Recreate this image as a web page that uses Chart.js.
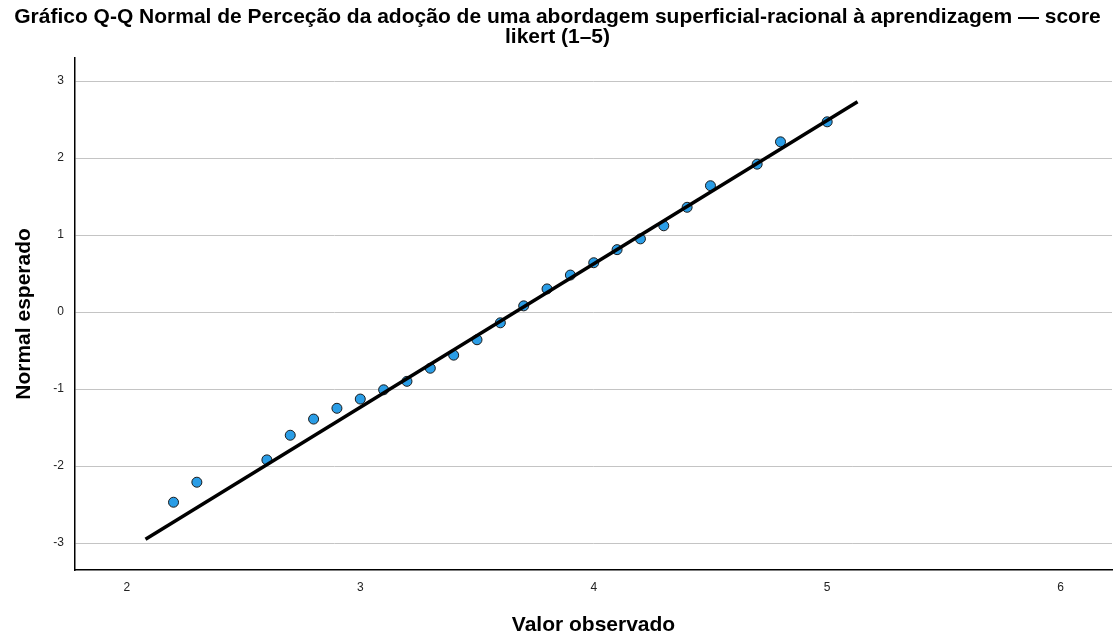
<!DOCTYPE html>
<html>
<head>
<meta charset="utf-8">
<script src="https://cdn.jsdelivr.net/npm/chart.js@4.4.1/dist/chart.umd.min.js"></script>
<style>
  body { margin: 0; background: #fff; }
</style>
</head>
<body>
<canvas id="qqChart" width="1118" height="638"></canvas>
<script>
// observed values and their expected normal quantiles
const observed = [2.2, 2.3, 2.6, 2.7, 2.8, 2.9, 3.0, 3.1, 3.2, 3.3, 3.4, 3.5, 3.6, 3.7, 3.8, 3.9, 4.0, 4.1, 4.2, 4.3, 4.4, 4.5, 4.7, 4.8, 5.0]
const expected = [-2.47, -2.21, -1.92, -1.60, -1.39, -1.25, -1.13, -1.01, -0.90, -0.73, -0.56, -0.36, -0.14, 0.08, 0.30, 0.48, 0.64, 0.81, 0.95, 1.12, 1.36, 1.64, 1.92, 2.21, 2.47]

// reference line end points
const lineX = [2.08, 5.13]
const lineY = [-2.95, 2.73]

const titleLines = ['Gráfico Q-Q Normal de Perceção da adoção de uma abordagem superficial-racional à aprendizagem — score', 'likert (1–5)']

const font = "'Liberation Sans', Arial, sans-serif"

const ctx = document.getElementById('qqChart').getContext('2d')
const qqChart = new Chart(ctx, {
    type: 'scatter',
    data: {
        datasets: [
            {
                type: 'line',
                data: lineX.map((x, i) => ({x: x, y: lineY[i]})),
                borderColor: '#000',
                borderWidth: 3.5,
                pointRadius: 0,
                fill: false,
                order: 0
            },
            {
                data: observed.map((x, i) => ({x: x, y: expected[i]})),
                pointRadius: 5,
                pointBackgroundColor: '#2a9de6',
                pointBorderColor: '#1a1a1a',
                pointBorderWidth: 1,
                order: 1
            }
        ]
    },
    options: {
        responsive: false,
        animation: false,
        layout: {
            padding: {left: 0, right: 3, top: 0, bottom: 0}
        },
        plugins: {
            legend: {display: false},
            tooltip: {enabled: false},
            title: {
                display: true,
                text: titleLines,
                color: '#000',
                font: {family: font, size: 21, weight: 'bold', lineHeight: 0.95},
                padding: {top: 7.5, bottom: 10.5}
            }
        },
        scales: {
            x: {
                type: 'linear',
                min: 1.778,
                max: 6.22,
                afterFit: scale => { scale.height = 68 },
                border: {display: true, color: '#000', width: 1.5},
                grid: {display: true, color: 'transparent', drawTicks: false},
                ticks: {
                    stepSize: 1,
                    includeBounds: false,
                    padding: 10,
                    color: '#222',
                    font: {family: font, size: 12}
                },
                title: {
                    display: true,
                    text: 'Valor observado',
                    color: '#000',
                    font: {family: font, size: 21, weight: 'bold'},
                    padding: {top: 10, bottom: 0}
                }
            },
            y: {
                type: 'linear',
                min: -3.35,
                max: 3.3,
                afterFit: scale => { scale.width = 75 },
                border: {display: true, color: '#000', width: 1.5},
                grid: {color: '#c4c4c4', lineWidth: 1, drawTicks: false},
                ticks: {
                    stepSize: 1,
                    includeBounds: false,
                    padding: 11,
                    color: '#222',
                    font: {family: font, size: 12}
                },
                title: {
                    display: true,
                    text: 'Normal esperado',
                    color: '#000',
                    font: {family: font, size: 21, weight: 'bold'},
                    padding: {top: 12, bottom: 0}
                }
            }
        }
    }
})
</script>
</body>
</html>
